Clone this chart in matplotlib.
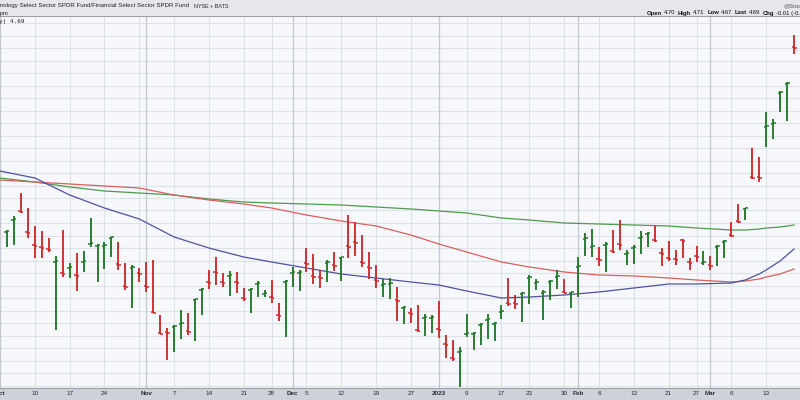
import numpy as np
import pandas as pd
import matplotlib
matplotlib.use('Agg')
import matplotlib.pyplot as plt
from matplotlib.patches import Rectangle
from matplotlib.ticker import MultipleLocator

plt.rcParams['font.family'] = ['Liberation Sans', 'DejaVu Sans']

# ---- trading calendar ---------------------------------------------------
HOLIDAYS = ['2022-11-24', '2022-12-26', '2023-01-02', '2023-01-16', '2023-02-20']
SESSIONS = pd.bdate_range('2022-10-03', '2023-03-17', freq='C', holidays=HOLIDAYS)
BAR_DATES = SESSIONS[1:]          # Oct 3 bar sits just off the left edge

# ---- XLK:XLF daily bars -----------------------------------------------
HIGHS = [
    3.972, 4.028, 4.120, 4.060, 3.988, 3.968, 3.940, 3.868, 3.972, 3.840,
    3.880, 3.888, 4.020, 3.916, 3.924, 3.944, 3.924, 3.840, 3.832, 3.820,
    3.844, 3.852, 3.632, 3.580, 3.592, 3.652, 3.640, 3.696, 3.740, 3.812,
    3.864, 3.800, 3.808, 3.804, 3.740, 3.740, 3.768, 3.732, 3.772, 3.680,
    3.772, 3.824, 3.812, 3.900, 3.876, 3.812, 3.852, 3.884, 3.864, 4.032,
    4.004, 3.952, 3.884, 3.832, 3.776, 3.780, 3.744, 3.668, 3.660, 3.672,
    3.636, 3.632, 3.688, 3.552, 3.532, 3.504, 3.636, 3.564, 3.600, 3.636,
    3.604, 3.672, 3.780, 3.712, 3.724, 3.792, 3.776, 3.732, 3.772, 3.812,
    3.776, 3.724, 3.864, 3.960, 3.976, 3.904, 3.924, 3.972, 4.012, 3.892,
    3.912, 3.968, 3.964, 3.988, 3.900, 3.928, 3.892, 3.936, 3.860, 3.908,
    3.888, 3.868, 3.912, 3.932, 4.004, 4.076, 4.060, 4.300, 4.264, 4.444,
    4.416, 4.528, 4.564, 4.752,
]
LOWS = [
    3.904, 3.912, 4.040, 3.940, 3.860, 3.860, 3.884, 3.572, 3.784, 3.780,
    3.728, 3.804, 3.904, 3.764, 3.816, 3.864, 3.812, 3.732, 3.660, 3.764,
    3.724, 3.640, 3.556, 3.452, 3.484, 3.536, 3.552, 3.528, 3.632, 3.736,
    3.752, 3.744, 3.708, 3.720, 3.688, 3.640, 3.704, 3.704, 3.680, 3.608,
    3.544, 3.744, 3.728, 3.804, 3.756, 3.740, 3.764, 3.808, 3.768, 3.860,
    3.868, 3.824, 3.776, 3.740, 3.704, 3.696, 3.608, 3.596, 3.600, 3.564,
    3.548, 3.560, 3.540, 3.460, 3.448, 3.344, 3.544, 3.492, 3.512, 3.536,
    3.528, 3.616, 3.668, 3.656, 3.604, 3.676, 3.732, 3.612, 3.692, 3.736,
    3.720, 3.660, 3.704, 3.868, 3.864, 3.828, 3.804, 3.880, 3.892, 3.832,
    3.836, 3.876, 3.904, 3.924, 3.828, 3.848, 3.832, 3.860, 3.812, 3.844,
    3.832, 3.812, 3.828, 3.860, 3.944, 4.000, 4.012, 4.176, 4.164, 4.304,
    4.336, 4.444, 4.408, 4.676,
]
OPENS = [
    3.964, 4.012, 4.048, 3.964, 3.912, 3.904, 3.896, 3.844, 3.800, 3.820,
    3.792, 3.844, 3.916, 3.908, 3.908, 3.940, 3.836, 3.748, 3.820, 3.800,
    3.748, 3.644, 3.560, 3.564, 3.584, 3.596, 3.568, 3.692, 3.732, 3.764,
    3.804, 3.764, 3.788, 3.764, 3.700, 3.732, 3.756, 3.716, 3.704, 3.632,
    3.764, 3.800, 3.800, 3.840, 3.788, 3.784, 3.840, 3.832, 3.860, 3.908,
    3.924, 3.844, 3.824, 3.772, 3.752, 3.756, 3.692, 3.660, 3.640, 3.572,
    3.620, 3.620, 3.576, 3.516, 3.460, 3.484, 3.556, 3.556, 3.592, 3.612,
    3.596, 3.644, 3.680, 3.680, 3.716, 3.780, 3.760, 3.720, 3.764, 3.784,
    3.724, 3.720, 3.824, 3.936, 3.904, 3.856, 3.912, 3.888, 3.916, 3.876,
    3.900, 3.940, 3.956, 3.932, 3.880, 3.860, 3.856, 3.932, 3.844, 3.868,
    3.840, 3.832, 3.904, 3.924, 3.952, 4.008, 4.056, 4.184, 4.184, 4.384,
    4.396, 4.520, 4.556, 4.704,
]
CLOSES = [
    3.968, 4.016, 4.044, 3.960, 3.908, 3.900, 3.892, 3.848, 3.796, 3.824,
    3.788, 3.848, 3.920, 3.912, 3.912, 3.944, 3.832, 3.744, 3.824, 3.796,
    3.744, 3.640, 3.556, 3.560, 3.588, 3.600, 3.564, 3.696, 3.736, 3.760,
    3.800, 3.760, 3.792, 3.760, 3.696, 3.736, 3.760, 3.720, 3.700, 3.628,
    3.768, 3.804, 3.804, 3.836, 3.784, 3.780, 3.844, 3.828, 3.864, 3.904,
    3.920, 3.840, 3.820, 3.768, 3.756, 3.760, 3.688, 3.664, 3.636, 3.568,
    3.624, 3.624, 3.572, 3.512, 3.456, 3.488, 3.560, 3.560, 3.596, 3.616,
    3.600, 3.648, 3.676, 3.676, 3.720, 3.784, 3.764, 3.724, 3.768, 3.788,
    3.720, 3.724, 3.828, 3.940, 3.908, 3.852, 3.916, 3.884, 3.912, 3.880,
    3.904, 3.944, 3.960, 3.928, 3.876, 3.856, 3.852, 3.928, 3.840, 3.864,
    3.844, 3.828, 3.908, 3.928, 3.948, 4.004, 4.060, 4.180, 4.180, 4.388,
    4.400, 4.524, 4.560, 4.700,
]

# ---- moving averages ---------------------------------------------------
MA_DATES = [
    '2022-10-03', '2022-10-10', '2022-10-17', '2022-10-24', '2022-10-31',
    '2022-11-07', '2022-11-14', '2022-11-21', '2022-11-28', '2022-12-05',
    '2022-12-12', '2022-12-19', '2022-12-27', '2023-01-03', '2023-01-09',
    '2023-01-17', '2023-01-23', '2023-01-30', '2023-02-06', '2023-02-13',
    '2023-02-21', '2023-02-27', '2023-03-06', '2023-03-08', '2023-03-10',
    '2023-03-13', '2023-03-15', '2023-03-17',
]
MA50 = [
    4.208, 4.180, 4.112, 4.060, 4.016, 3.944, 3.900, 3.864, 3.844, 3.820,
    3.796, 3.780, 3.764, 3.752, 3.728, 3.700, 3.704, 3.712, 3.724, 3.740,
    3.756, 3.756, 3.760, 3.772, 3.796, 3.812, 3.848, 3.896,
]
MA100 = [
    4.172, 4.164, 4.156, 4.148, 4.140, 4.112, 4.092, 4.076, 4.060, 4.032,
    4.008, 3.988, 3.952, 3.916, 3.884, 3.844, 3.824, 3.804, 3.792, 3.788,
    3.780, 3.772, 3.764, 3.768, 3.776, 3.784, 3.796, 3.816,
]
MA200 = [
    4.180, 4.164, 4.144, 4.128, 4.120, 4.112, 4.096, 4.084, 4.080, 4.076,
    4.072, 4.064, 4.056, 4.048, 4.040, 4.020, 4.012, 4.000, 3.996, 3.992,
    3.988, 3.980, 3.972, 3.972, 3.976, 3.980, 3.984, 3.992,
]

QUOTE_LABELS = ['Open', 'High', 'Low', 'Last', 'Chg']
QUOTE_VALUES = ['4.70', '4.71', '4.67', '4.69', '-0.01 (-0.21%)']

UP_COLOR = '#23782a'
DOWN_COLOR = '#cf2b2b'
W, H = 800, 400


def px(x, y):
    """pixel position (from top-left) -> figure fraction"""
    return x / W, 1 - y / H


pos = pd.Series(np.arange(len(SESSIONS)), index=SESSIONS)

fig = plt.figure(figsize=(8, 4), dpi=100)
fig.patch.set_facecolor('white')

# header band and bottom date band
fig.add_artist(Rectangle(px(0, 16), 1, 16 / H, transform=fig.transFigure,
                         facecolor='#e5e7eb', edgecolor='none', zorder=-2))
fig.add_artist(Rectangle((0, 0), 1, 12 / H, transform=fig.transFigure,
                         facecolor='#cdd1d8', edgecolor='none', zorder=-2))

ax = fig.add_axes([0, 12 / H, 1, 372 / H])
ax.set_facecolor('#f7f8fb')
ax.set_xlim(1 - 3 / 7, 1 + (W - 3) / 7)
ax.set_ylim(3.340, 4.828)
for s in ax.spines.values():
    s.set_visible(False)
for side in ('top', 'bottom'):
    ax.spines[side].set_visible(True)
    ax.spines[side].set_color('#9aa0aa')
    ax.spines[side].set_linewidth(0.8)

# horizontal grid
ax.yaxis.set_major_locator(MultipleLocator(0.05))
ax.tick_params(axis='y', left=False, labelleft=False)
ax.grid(axis='y', color='#dde1e8', linewidth=0.8)

# date ticks: week starts + month starts
n = len(SESSIONS)
week_start = [0] + [i for i in range(1, n)
                    if SESSIONS[i].isocalendar().week != SESSIONS[i - 1].isocalendar().week]
month_start = [0] + [i for i in range(1, n) if SESSIONS[i].month != SESSIONS[i - 1].month]
tick_pos = sorted(set(week_start) | set(month_start))
labels = []
for i in tick_pos:
    d = SESSIONS[i]
    if i in month_start:
        labels.append(str(d.year) if d.month == 1 else d.strftime('%b'))
    elif any(0 < m - i <= 1 for m in month_start):
        labels.append('')
    else:
        labels.append(str(d.day))
ax.set_xticks(tick_pos)
ax.set_xticklabels(labels)
ax.tick_params(axis='x', length=0, pad=2.2, labelsize=4.6, labelcolor='#2b2b2b')
for i, lab in zip(tick_pos, ax.get_xticklabels()):
    if i in month_start:
        lab.set_fontweight('bold')
ax.grid(axis='x', color='#dde1e8', linewidth=0.8)
for m in month_start:
    ax.axvline(m, color='#c3c8d1', linewidth=0.9, zorder=0.6)
ax.set_axisbelow(True)

# moving averages
ma_x = pos[pd.to_datetime(MA_DATES)].values
ax.plot(ma_x, MA200, color='#4f9a4f', linewidth=0.9, zorder=2)
ax.plot(ma_x, MA100, color='#d8605c', linewidth=0.9, zorder=2)
ax.plot(ma_x, MA50, color='#50529e', linewidth=0.9, zorder=2)

# OHLC bars
x = pos[BAR_DATES].values
opens = np.array(OPENS)
closes = np.array(CLOSES)
colors = np.where(closes >= opens, UP_COLOR, DOWN_COLOR)
tick = 0.36
ax.vlines(x, LOWS, HIGHS, colors=colors, linewidth=1.35, zorder=3)
ax.hlines(opens, x - tick, x, colors=colors, linewidth=1.1, zorder=3)
ax.hlines(closes, x, x + tick, colors=colors, linewidth=1.1, zorder=3)

# header texts (cropped like the screenshot)
fig.text(*px(-13, 6), 'Technology Select Sector SPDR Fund/Financial Select Sector SPDR Fund',
         fontsize=4.4, color='#222222', va='center', ha='left')
fig.text(*px(194, 6), 'NYSE + BATS', fontsize=3.9, color='#222222', va='center', ha='left')
fig.text(*px(8, 13), '17-Mar-2023 4:00pm', fontsize=4.2, color='#222222',
         va='center', ha='right')
fig.text(*px(783, 6), '@StockCharts.com', fontsize=4.2, color='#555555',
         va='center', ha='left')

# quote line: laid out word by word from x = 647
renderer = fig.canvas.get_renderer()
xp = 647.0
for lab, val in zip(QUOTE_LABELS, QUOTE_VALUES):
    for txt, weight, gap in ((lab, 'bold', 1.5), (val, 'normal', 3.0)):
        t = fig.text(*px(xp, 13), txt, fontsize=4.2, color='#111111', va='center',
                     ha='left', fontweight=weight)
        xp += t.get_window_extent(renderer).width + gap

fig.text(*px(25, 21), 'XLK:XLF (Daily) 4.69', fontsize=4.3, color='#222222',
         va='center', ha='right', family='DejaVu Sans Mono')

fig.savefig('out.png', dpi=100)
